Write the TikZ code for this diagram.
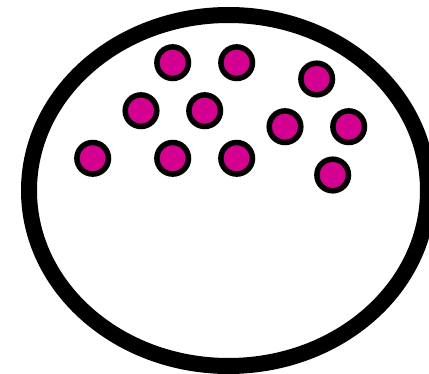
\documentclass[tikz,border=0pt]{standalone}
\definecolor{dotmag}{RGB}{212,0,143}
\begin{document}
\begin{tikzpicture}[x=1pt,y=-1pt,
  granule/.style={circle,draw=black,fill=dotmag,line width=5.5pt,minimum size=31.6pt,inner sep=0pt}]
\useasboundingbox (0,0) rectangle (429,374);
\fill[white] (0,0) rectangle (429,374);
\draw[line width=16pt] (228.5,190.5) ellipse [x radius=199.5, y radius=175.5];
\node[granule] (g1) at (172.7,62.7) {};
\node[granule] (g2) at (236.7,62.7) {};
\node[granule] (g3) at (316.7,79) {};
\node[granule] (g4) at (141,110.7) {};
\node[granule] (g5) at (204.7,110.7) {};
\node[granule] (g6) at (285,126.7) {};
\node[granule] (g7) at (348.7,126.7) {};
\node[granule] (g8) at (92.7,158.3) {};
\node[granule] (g9) at (172.7,158.3) {};
\node[granule] (g10) at (236.7,158.3) {};
\node[granule] (g11) at (332.7,175) {};
\end{tikzpicture}
\end{document}
